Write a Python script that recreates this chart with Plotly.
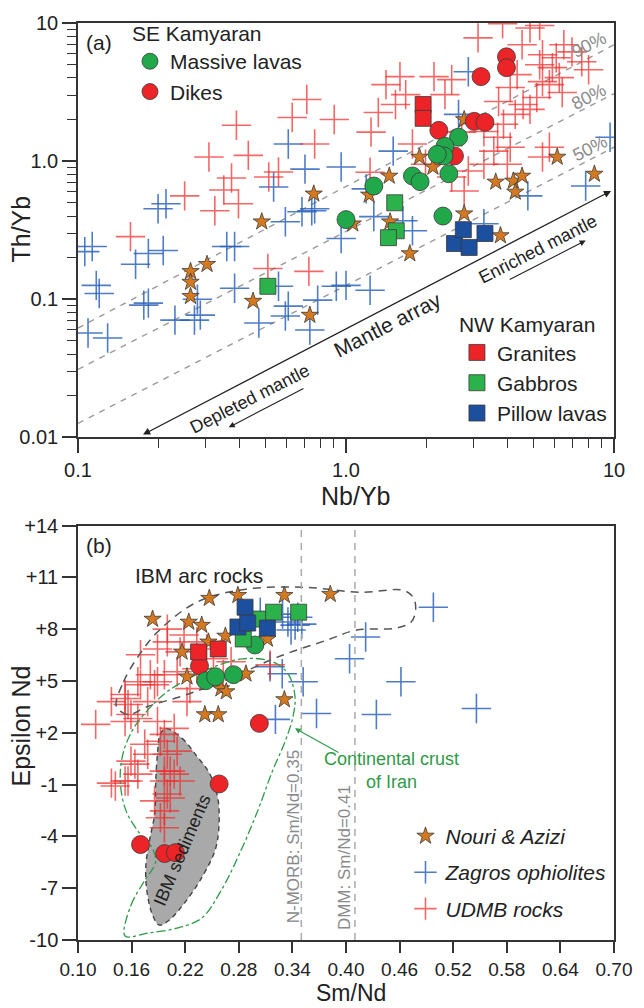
import numpy as np
import plotly.graph_objects as go

# ================= Panel (a): Th/Yb vs Nb/Yb =================
a_massive_nb = [2.63, 2.34, 2.32, 2.19, 1.77, 1.89, 2.42, 1.27, 1.00, 2.30]
a_massive_th = [1.49, 1.28, 1.09, 1.12, 0.78, 0.71, 0.81, 0.66, 0.377, 0.40]
a_dikes_nb = [3.97, 3.97, 3.19, 3.01, 3.30, 2.22, 2.54]
a_dikes_th = [5.69, 4.75, 4.09, 1.94, 1.91, 1.67, 1.09]
a_granite_nb = [1.94, 1.94]
a_granite_th = [2.57, 2.04]
a_gabbro_nb = [1.52, 1.54, 1.44, 0.511]
a_gabbro_th = [0.499, 0.313, 0.279, 0.124]
a_pillow_nb = [2.54, 2.88, 2.74, 3.30]
a_pillow_th = [0.253, 0.237, 0.319, 0.299]
a_nouri_nb = [0.263, 0.263, 0.263, 0.303, 0.450, 0.485, 0.733, 0.758, 1.06, 1.22, 1.45, 1.46,
              1.73, 1.88, 2.11, 2.76, 2.76, 3.62, 4.21, 4.54, 4.28, 3.77, 6.14, 8.45]
a_nouri_th = [0.159, 0.133, 0.105, 0.179, 0.0968, 0.364, 0.0767, 0.579, 0.352, 0.569, 0.780, 0.364,
              0.214, 1.07, 0.906, 2.00, 0.416, 0.706, 0.718, 0.780, 0.598, 0.289, 1.07, 0.806]
a_zagros_nb = [0.106, 0.113, 0.117, 0.109, 0.129, 0.164, 0.183, 0.208, 0.176, 0.183, 0.213, 0.230,
               0.272, 0.286, 0.279, 0.359, 0.384, 0.384, 0.473, 0.537, 0.609, 0.703, 0.685, 0.594,
               0.560, 0.609, 0.594, 0.733, 0.745, 0.784, 0.959, 1.19, 0.764, 1.27, 1.63, 1.77,
               1.50, 2.86, 2.63, 3.27, 4.77, 7.84, 9.67, 0.959, 0.920, 1.00, 1.23, 0.199, 0.120]
a_zagros_th = [0.221, 0.241, 0.126, 0.0569, 0.0524, 0.179, 0.214, 0.225, 0.0906, 0.0936, 0.491, 0.0706,
               0.0706, 0.0767, 0.100, 0.241, 0.241, 0.120, 0.0672, 0.650, 1.33, 0.875, 0.430, 0.364,
               0.124, 0.0891, 0.0755, 0.0598, 0.437, 0.0984, 0.906, 0.629, 0.452, 0.396, 0.370, 0.313,
               1.18, 4.44, 2.18, 0.352, 0.560, 0.661, 1.49, 0.275, 0.124, 0.126, 0.116, 0.452, 0.110]
a_udmb_nb = [0.157, 0.250, 0.390, 0.308, 0.432, 0.374, 0.350, 0.324, 0.397, 0.515, 0.560, 0.630,
             0.714, 0.764, 0.511, 0.727, 0.904, 1.24, 1.32, 1.59, 1.41, 2.13, 2.34, 2.48, 3.11,
             3.84, 4.54, 4.86, 5.28, 5.41, 5.89, 6.25, 5.74, 6.41, 5.15, 4.58, 4.28, 3.87, 3.68,
             3.56, 4.10, 3.27, 2.86, 2.76, 2.48, 1.98, 1.77, 1.53, 1.67, 7.58, 6.97, 6.09, 5.41,
             4.10, 3.71, 3.27, 2.70, 5.41, 5.74, 4.00, 5.28, 6.50, 8.04, 4.86, 4.35, 1.23]
a_udmb_th = [0.284, 0.560, 1.82, 1.07, 1.10, 0.755, 0.618, 0.437, 0.491, 0.767, 0.834, 2.07,
             2.79, 1.33, 0.167, 0.159, 2.00, 1.62, 2.25, 4.09, 3.58, 4.09, 3.03, 3.89, 7.80,
             9.9, 6.95, 9.2, 9.6, 5.89, 4.75, 4.02, 3.58, 3.14, 2.89, 2.57, 2.18, 1.85, 1.49,
             1.18, 1.26, 0.95, 0.847, 0.608, 0.767, 0.95, 1.33, 2.57, 3.03, 5.24, 6.18, 5.60, 3.76,
             3.41, 2.70, 1.64, 1.62, 1.07, 1.26, 0.95, 4.99, 6.95, 4.59, 2.37, 4.23, 0.83]

# melt-fraction reference lines (end points at Nb/Yb = 0.1 and 10)
mix_nb = [0.1, 10]
mix90_th = [0.0618, 6.95]
mix80_th = [0.031, 3.08]
mix50_th = [0.0126, 1.26]
mantle_array_nb = [0.1726, 9.75]
mantle_array_th = [0.01033, 0.608]
depleted_arrow_nb = [0.703, 0.365]
depleted_arrow_th = [0.0229, 0.0118]
enriched_arrow_nb = [4.03, 7.84]
enriched_arrow_th = [0.137, 0.266]

# ================= Panel (b): Epsilon Nd vs Sm/Nd =================
b_massive_sm = [0.243, 0.254, 0.274, 0.298]
b_massive_end = [5.02, 5.25, 5.37, 7.09]
b_dikes_sm = [0.236, 0.303, 0.258, 0.170, 0.197, 0.209]
b_dikes_end = [5.88, 2.55, -0.96, -4.47, -4.99, -4.94]
b_granite_sm = [0.235, 0.257]
b_granite_end = [6.69, 6.86]
b_gabbro_sm = [0.285, 0.302, 0.319, 0.347]
b_gabbro_end = [7.44, 8.59, 8.99, 8.99]
b_pillow_sm = [0.287, 0.279, 0.290, 0.312]
b_pillow_end = [9.28, 8.13, 8.36, 8.07]
b_nouri_sm = [0.1835, 0.224, 0.2385, 0.247, 0.279, 0.331, 0.3824, 0.265, 0.246, 0.2165, 0.312,
              0.222, 0.288, 0.260, 0.266, 0.331, 0.242, 0.257]
b_nouri_end = [8.59, 8.42, 8.24, 9.80, 9.97, 9.97, 10.03, 7.61, 7.27, 6.69, 7.44,
               5.25, 5.42, 4.56, 4.39, 3.93, 3.06, 3.06]
b_zagros_sm = [0.4978, 0.422, 0.404, 0.4615, 0.546, 0.352, 0.367, 0.434, 0.315, 0.3286, 0.335,
               0.343, 0.329, 0.3505, 0.321, 0.304, 0.3385, 0.346]
b_zagros_end = [9.28, 7.55, 6.29, 4.96, 3.41, 4.96, 3.12, 3.06, 5.83, 5.42, 8.42,
                8.24, 8.88, 8.30, 2.78, 8.99, 7.96, 8.70]
b_udmb_sm = [0.1198, 0.1374, 0.1527, 0.1527, 0.167, 0.170, 0.181, 0.1857, 0.189, 0.189, 0.1967,
             0.200, 0.200, 0.2143, 0.2187, 0.211, 0.233, 0.244, 0.2516, 0.2626, 0.2253, 0.170,
             0.1527, 0.156, 0.189, 0.1967, 0.1923, 0.200, 0.178, 0.1593, 0.167, 0.2077, 0.211,
             0.1747, 0.1593, 0.1637, 0.156, 0.1418, 0.1374, 0.1527, 0.167, 0.1967, 0.2033, 0.1967,
             0.2077, 0.200, 0.1857, 0.2033, 0.1967, 0.1923, 0.1967, 0.2143, 0.315, 0.233, 0.2714,
             0.222, 0.178]
b_udmb_end = [2.49, 3.81, 3.99, 2.66, 4.96, 6.52, 5.37, 4.79, 6.86, 4.96, 5.37,
              7.27, 8.01, 6.69, 7.67, 5.54, 5.71, 6.86, 6.29, 5.37, 4.56, 4.79,
              4.22, 3.64, 2.66, 1.91, 1.51, 0.76, 0.76, 3.06, 2.83, 2.26, 0.94,
              1.34, 0.36, 0.19, -0.79, -1.08, -0.91, -0.79, -0.39, -0.22, -0.22, -0.79,
              -0.39, -1.54, -1.94, -1.77, -2.52, -2.92, -3.50, -0.79, 5.94, 7.27, 6.12,
              3.81, 3.81]

nmorb_sm = 0.35
dmm_sm = 0.41

ibm_arc_sm = [0.143, 0.151, 0.167, 0.189, 0.233, 0.288, 0.354, 0.416, 0.464, 0.475, 0.478, 0.473,
              0.456, 0.412, 0.379, 0.324, 0.269, 0.222, 0.178, 0.156, 0.143]
ibm_arc_end = [3.53, 4.96, 6.40, 7.84, 9.57, 10.32, 10.43, 10.14, 10.26, 9.86, 9.17, 8.42,
               8.07, 7.96, 7.38, 6.40, 5.14, 4.22, 3.53, 3.06, 3.53]
ibm_sed_sm = [0.198, 0.2165, 0.233, 0.247, 0.256, 0.258, 0.254, 0.238, 0.219, 0.202, 0.191, 0.1835,
              0.177, 0.176, 0.180, 0.186, 0.187, 0.189, 0.192, 0.198]
ibm_sed_end = [2.26, 1.68, 0.65, -0.33, -1.65, -3.09, -4.71, -6.43, -7.87, -8.85, -9.14, -8.56,
               -7.12, -5.68, -4.24, -2.63, -0.79, 0.82, 1.91, 2.26]
crust_sm = [0.1527, 0.1593, 0.1747, 0.1868, 0.1835, 0.1692, 0.1538, 0.1473, 0.1505, 0.1615, 0.1747,
            0.200, 0.244, 0.2846, 0.3176, 0.3352, 0.3429, 0.3407, 0.3319, 0.3176, 0.3011, 0.2824,
            0.2604, 0.2385, 0.211, 0.178, 0.1527]
crust_end = [-9.77, -7.99, -6.55, -5.51, -4.71, -3.84, -2.52, -0.79, 0.82, 2.20, 3.12,
             4.39, 5.65, 6.29, 6.12, 5.42, 4.10, 2.95, 1.51, -0.22, -2.52, -4.82,
             -7.12, -8.73, -9.31, -9.60, -9.77]
crust_arrow_sm = 0.3429
crust_arrow_end = 2.26

# tick labels
a_x_ticks = [0.1, 1, 10]
a_x_ticktext = ['0.1', '1.0', '10']
a_y_ticks = [0.01, 0.1, 1, 10]
a_y_ticktext = ['0.01', '0.1', '1.0', '10']
minor_log = [m * 10.0 ** e for e in (-2, -1, 0) for m in range(2, 10)]
b_x_ticks = [0.10, 0.16, 0.22, 0.28, 0.34, 0.40, 0.46, 0.52, 0.58, 0.64, 0.70]
b_x_ticktext = ['0.10', '0.16', '0.22', '0.28', '0.34', '0.40', '0.46', '0.52', '0.58', '0.64', '0.70']
b_y_ticks = [14, 11, 8, 5, 2, -1, -4, -7, -10]
b_y_ticktext = ['+14', '+11', '+8', '+5', '+2', '-1', '-4', '-7', '-10']

# ----------------- styles -----------------
FONT = "Arial, 'Liberation Sans', sans-serif"
RED_X = 'rgba(240,45,45,0.72)'
BLUE_X = 'rgba(40,95,185,0.82)'
STAR = '#d4791f'
RED = '#ec2327'
GREEN_C = '#21a84a'
GREEN_S = '#2cb24b'
BLUE_S = '#1d4f9f'
EDGE = '#3a3a3a'
GREY_LINE = '#9a9a9a'
CRUST_GREEN = '#2f9a48'

fig = go.Figure()


def crosses(x, y, color, name, xa, ya, show=False, legend='legend3', group=None):
    return go.Scatter(x=x, y=y, mode='markers', xaxis=xa, yaxis=ya, name=name,
                      showlegend=show, legend=legend, legendgroup=group,
                      marker=dict(symbol='cross-thin', size=21, color=color,
                                  line=dict(color=color, width=1.6)),
                      hoverinfo='skip')


def pts(x, y, symbol, size, color, name, xa, ya, show=False, legend='legend', group=None, lw=0.8):
    return go.Scatter(x=x, y=y, mode='markers', xaxis=xa, yaxis=ya, name=name,
                      showlegend=show, legend=legend, legendgroup=group,
                      marker=dict(symbol=symbol, size=size, color=color,
                                  line=dict(color=EDGE, width=lw)),
                      hoverinfo='skip')


# ---------- panel (a) ----------
for th in (mix90_th, mix80_th, mix50_th):
    fig.add_trace(go.Scatter(x=mix_nb, y=th, mode='lines', xaxis='x', yaxis='y', showlegend=False,
                             line=dict(color=GREY_LINE, width=1.4, dash='6px,6px'), hoverinfo='skip'))
fig.add_trace(crosses(a_zagros_nb, a_zagros_th, BLUE_X, 'Zagros ophiolites', 'x', 'y'))
fig.add_trace(crosses(a_udmb_nb, a_udmb_th, RED_X, 'UDMB rocks', 'x', 'y'))
fig.add_trace(pts(a_nouri_nb, a_nouri_th, 'star', 13, STAR, 'Nouri & Azizi', 'x', 'y'))
fig.add_trace(pts(a_dikes_nb, a_dikes_th, 'circle', 18, RED, 'Dikes', 'x', 'y'))
fig.add_trace(pts(a_massive_nb, a_massive_th, 'circle', 18, GREEN_C, 'Massive lavas', 'x', 'y'))
fig.add_trace(pts(a_granite_nb, a_granite_th, 'square', 16, RED, 'Granites', 'x', 'y'))
fig.add_trace(pts(a_gabbro_nb, a_gabbro_th, 'square', 16, GREEN_S, 'Gabbros', 'x', 'y'))
fig.add_trace(pts(a_pillow_nb, a_pillow_th, 'square', 16, BLUE_S, 'Pillow lavas', 'x', 'y'))

# ---------- panel (b) ----------
fig.add_trace(go.Scatter(x=ibm_sed_sm, y=ibm_sed_end, mode='lines', fill='toself', xaxis='x2', yaxis='y2',
                         fillcolor='#a9a9a9', line=dict(color='#444', width=1.4, dash='5px,4px', shape='spline'),
                         showlegend=False, hoverinfo='skip'))
fig.add_trace(crosses(b_zagros_sm, b_zagros_end, BLUE_X, 'Zagros ophiolites', 'x2', 'y2'))
fig.add_trace(crosses(b_udmb_sm, b_udmb_end, RED_X, 'UDMB rocks', 'x2', 'y2'))
fig.add_trace(go.Scatter(x=ibm_arc_sm, y=ibm_arc_end, mode='lines', xaxis='x2', yaxis='y2',
                         line=dict(color='#555', width=1.5, dash='8px,6px', shape='spline'),
                         showlegend=False, hoverinfo='skip'))
fig.add_trace(go.Scatter(x=crust_sm, y=crust_end, mode='lines', xaxis='x2', yaxis='y2',
                         line=dict(color=CRUST_GREEN, width=1.3, dash='dashdot', shape='spline'),
                         showlegend=False, hoverinfo='skip'))
for v in (nmorb_sm, dmm_sm):
    fig.add_trace(go.Scatter(x=[v, v], y=[-10, 14], mode='lines', xaxis='x2', yaxis='y2',
                             line=dict(color='#aaaaaa', width=1.5, dash='7px,6px'),
                             showlegend=False, hoverinfo='skip'))
fig.add_trace(pts(b_nouri_sm, b_nouri_end, 'star', 13, STAR, 'Nouri & Azizi', 'x2', 'y2'))
fig.add_trace(pts(b_dikes_sm, b_dikes_end, 'circle', 18, RED, 'Dikes', 'x2', 'y2'))
fig.add_trace(pts(b_massive_sm, b_massive_end, 'circle', 18, GREEN_C, 'Massive lavas', 'x2', 'y2'))
fig.add_trace(pts(b_granite_sm, b_granite_end, 'square', 16, RED, 'Granites', 'x2', 'y2'))
fig.add_trace(pts(b_gabbro_sm, b_gabbro_end, 'square', 16, GREEN_S, 'Gabbros', 'x2', 'y2'))
fig.add_trace(pts(b_pillow_sm, b_pillow_end, 'square', 16, BLUE_S, 'Pillow lavas', 'x2', 'y2'))

# ---------- legend-only traces ----------
fig.add_trace(pts([None], [None], 'circle', 18, GREEN_C, 'Massive lavas', 'x', 'y', show=True, legend='legend'))
fig.add_trace(pts([None], [None], 'circle', 18, RED, 'Dikes', 'x', 'y', show=True, legend='legend'))
fig.add_trace(pts([None], [None], 'square', 16, RED, 'Granites', 'x', 'y', show=True, legend='legend2'))
fig.add_trace(pts([None], [None], 'square', 16, GREEN_S, 'Gabbros', 'x', 'y', show=True, legend='legend2'))
fig.add_trace(pts([None], [None], 'square', 16, BLUE_S, 'Pillow lavas', 'x', 'y', show=True, legend='legend2'))
fig.add_trace(pts([None], [None], 'star', 13, STAR, 'Nouri & Azizi', 'x2', 'y2', show=True,
                  legend='legend3', group='g1'))
fig.add_trace(crosses([None], [None], BLUE_X, 'Zagros ophiolites', 'x2', 'y2', show=True, group='g2'))
fig.add_trace(crosses([None], [None], RED_X, 'UDMB rocks', 'x2', 'y2', show=True, group='g3'))

# ---------- annotations ----------
ann = []


def txt(text, x, y, size=20, color='#222', angle=0, **kw):
    d = dict(text=text, x=x, y=y, xref='paper', yref='paper',
             showarrow=False, textangle=angle, font=dict(size=size, color=color, family=FONT),
             xanchor='center', yanchor='middle')
    d.update(kw)
    ann.append(d)


txt('(a)', 0.040, 0.979, size=21)
txt('Mantle array', 0.578, 0.671, size=21, angle=-27)
txt('Depleted mantle', 0.320, 0.5905, size=18, angle=-27)
txt('Enriched mantle', 0.859, 0.753, size=18, angle=-27)
txt('90%', 0.9525, 0.976, size=18, color='#8a8a8a', angle=-27)
txt('80%', 0.9525, 0.919, size=18, color='#8a8a8a', angle=-27)
txt('50%', 0.956, 0.8635, size=18, color='#8a8a8a', angle=-27)
txt('Th/Yb', -0.106, 0.775, size=25, angle=-90)
txt('Nb/Yb', 0.517, 0.484, size=25)

txt('(b)', 0.040, 0.430, size=21)
txt('IBM arc rocks', 0.226, 0.3976, size=21)
txt('IBM sediments', 0.1938, 0.0986, size=18, angle=-67)
txt('Continental crust<br>of Iran', 0.585, 0.1853, size=18, color=CRUST_GREEN)
txt('N-MORB: Sm/Nd=0.35', 0.4022, 0.1127, size=17, color='#8a8a8a', angle=-90)
txt('DMM: Sm/Nd=0.41', 0.4973, 0.0899, size=17, color='#8a8a8a', angle=-90)
txt('Epsilon Nd', -0.106, 0.233, size=25, angle=-90)
txt('Sm/Nd', 0.510, -0.0736, size=23, yanchor='bottom', borderpad=0)

# arrows (data coordinates; log axes use log10)
ann.append(dict(x=np.log10(mantle_array_nb[1]), y=np.log10(mantle_array_th[1]),
                ax=np.log10(mantle_array_nb[0]), ay=np.log10(mantle_array_th[0]),
                xref='x', yref='y', axref='x', ayref='y', text='', showarrow=True,
                arrowhead=2, startarrowhead=2, arrowside='end+start', arrowsize=1.1,
                arrowwidth=1.3, arrowcolor='#222', standoff=0, startstandoff=0))
for xs, ys in ((depleted_arrow_nb, depleted_arrow_th), (enriched_arrow_nb, enriched_arrow_th)):
    ann.append(dict(x=np.log10(xs[1]), y=np.log10(ys[1]), ax=np.log10(xs[0]), ay=np.log10(ys[0]),
                    xref='x', yref='y', axref='x', ayref='y', text='', showarrow=True,
                    arrowhead=2, arrowsize=1.1, arrowwidth=1.1, arrowcolor='#222', standoff=0))
ann.append(dict(x=crust_arrow_sm, y=crust_arrow_end, xref='x2', yref='y2', ax=45, ay=25,
                text='', showarrow=True, arrowhead=2, arrowsize=1, arrowwidth=1.1,
                arrowcolor=CRUST_GREEN, standoff=0))

axis_common = dict(showline=True, linecolor='#333', linewidth=1.5, mirror=True, ticks='outside',
                   tickwidth=1.5, tickcolor='#333', ticklen=14, showgrid=False, zeroline=False,
                   tickfont=dict(size=20, color='#222', family=FONT))
axis_b_x = dict(axis_common, ticklen=11, tickfont=dict(size=19, color='#222', family=FONT))

fig.update_layout(
    width=644, height=1008,
    margin=dict(l=78, r=19, t=17, b=68),
    paper_bgcolor='white', plot_bgcolor='white',
    font=dict(family=FONT, size=20, color='#222'),
    xaxis=dict(type='log', range=[-1, 1], domain=[0, 1], anchor='y', tickmode='array',
               tickvals=a_x_ticks, ticktext=a_x_ticktext,
               minor=dict(tickmode='array', tickvals=minor_log, ticks='outside', ticklen=9,
                          tickwidth=1.3, tickcolor='#333'), **axis_common),
    yaxis=dict(type='log', range=[-2, 1], domain=[0.5482, 1], anchor='x', tickmode='array',
               tickvals=a_y_ticks, ticktext=a_y_ticktext,
               minor=dict(tickmode='array', tickvals=minor_log, ticks='outside', ticklen=9,
                          tickwidth=1.3, tickcolor='#333'), **axis_common),
    xaxis2=dict(range=[0.10, 0.70], domain=[0, 1], anchor='y2', tickmode='array',
                tickvals=b_x_ticks, ticktext=b_x_ticktext, **axis_b_x),
    yaxis2=dict(range=[-10, 14], domain=[0, 0.4518], anchor='x2', tickmode='array',
                tickvals=b_y_ticks, ticktext=b_y_ticktext, **axis_common),
    annotations=ann,
    legend=dict(x=0.097, y=1.010, xanchor='left', yanchor='top', bgcolor='rgba(0,0,0,0)',
                title=dict(text='SE Kamyaran', font=dict(size=21)), font=dict(size=21),
                itemsizing='trace', tracegroupgap=0),
    legend2=dict(x=0.707, y=0.6925, xanchor='left', yanchor='top', bgcolor='rgba(0,0,0,0)',
                 title=dict(text='NW Kamyaran', font=dict(size=21)), font=dict(size=21),
                 itemsizing='trace'),
    legend3=dict(x=0.611, y=0.1354, xanchor='left', yanchor='top', bgcolor='rgba(0,0,0,0)',
                 font=dict(size=21, style='italic'), itemsizing='trace',
                 traceorder='grouped', tracegroupgap=6),
)

fig.write_html('out.html')
